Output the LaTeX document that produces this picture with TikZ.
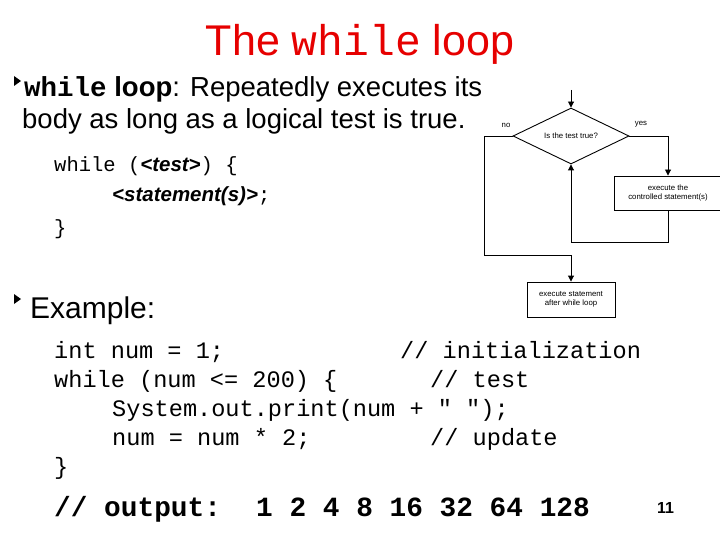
\documentclass[tikz,border=0pt]{standalone}
\usepackage{fontspec}
\setmainfont{Liberation Sans}
\setmonofont{Liberation Mono}
\usetikzlibrary{shapes.geometric,arrows.meta}
\definecolor{titlered}{RGB}{230,0,0}
\begin{document}
\begin{tikzpicture}[x=1pt,y=-1pt,
  txt/.style={anchor=base west,inner sep=0pt},
  bul/.style={fill=black,draw=none},
  fbox/.style={draw,line width=0.9pt,align=center,font=\fontsize{7.8}{9}\selectfont,inner sep=0pt},
  flow/.style={line width=0.9pt},
  arr/.style={flow,-{Triangle[length=6pt,width=6pt]}},
  lab/.style={font=\fontsize{7.8}{9}\selectfont,inner sep=0pt}]
\useasboundingbox (0,0) rectangle (720,540);
% title
\node[anchor=base,inner sep=0pt,text=titlered,font=\fontsize{43}{45}\selectfont] (title) at (360,56) {The \texttt{while} loop};
% bullets
\fill[bul] (14,76) -- (21,81) -- (14,86) -- cycle;
\fill[bul] (14,294) -- (21,299) -- (14,304) -- cycle;
\node[txt,font=\fontsize{27.5}{30}\selectfont] (b1) at (24,97) {\textbf{\texttt{while} loop}: Repeatedly executes its};
\node[txt,font=\fontsize{27.5}{30}\selectfont] (b1b) at (22,129) {body as long as a logical test is true.};
\node[txt,font=\fontsize{20.5}{22}\selectfont\ttfamily] (s1) at (54,172) {while (\rmfamily\bfseries\itshape <test>\ttfamily\mdseries\upshape) \{};
\node[txt,font=\fontsize{20.5}{22}\selectfont\ttfamily] (s2) at (112,202) {{\rmfamily\bfseries\itshape <statement(s)>};};
\node[txt,font=\fontsize{20.5}{22}\selectfont\ttfamily] (s3) at (54,234) {\}};
\node[txt,font=\fontsize{30}{32}\selectfont] (ex) at (30,318) {Example:};
% code
\begin{scope}[every node/.style={txt,font=\fontsize{23.6}{25}\selectfont\ttfamily}]
\node (c1) at (54,358) {int num = 1;};
\node (c1c) at (400,358) {// initialization};
\node (c2) at (54,387) {while (num <= 200) \{};
\node (c2c) at (430,387) {// test};
\node (c3) at (112,416) {System.out.print(num + " ");};
\node (c4) at (112,445) {num = num * 2;};
\node (c4c) at (430,445) {// update};
\node (c5) at (54,474) {\}};
\end{scope}
\node[txt,font=\fontsize{27.8}{30}\selectfont\ttfamily\bfseries] (o1) at (54,516) {// output:};
\node[txt,font=\fontsize{27.8}{30}\selectfont\ttfamily\bfseries] (o2) at (256,516) {1 2 4 8 16 32 64 128};
\node[txt,font=\fontsize{16}{18}\selectfont\bfseries] (pg) at (657,513) {11};
% flowchart
\coordinate (in) at (571,90);
\node[diamond,draw,line width=0.9pt,minimum width=116pt,minimum height=56pt,inner sep=0pt,aspect=2.1,font=\fontsize{7.8}{9}\selectfont] (d) at (571,136) {Is the test true?};
\node[fbox,minimum width=107pt,minimum height=34pt] (bx) at (668,193) {execute the\\controlled statement(s)};
\node[fbox,minimum width=88pt,minimum height=35pt] (ax) at (571,299.5) {execute statement\\after while loop};
\draw[arr] (in) -- (d.north);
\draw[arr] (d.east) -| (bx.north);
\draw[arr] (bx.south) |- (571,242) -- (d.south);
\draw[arr] (d.west) -- (484,136) |- (571,255) -- (ax.north);
\node[lab] (no) at (506,125) {no};
\node[lab] (yes) at (641,124) {yes};
\end{tikzpicture}
\end{document}
